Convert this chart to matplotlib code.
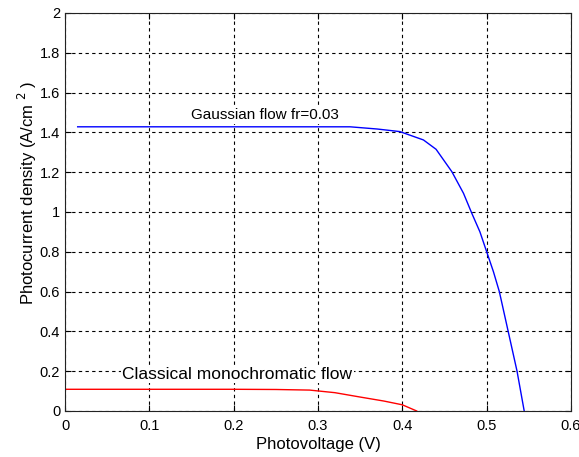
import matplotlib.pyplot as plt

plt.rcParams['font.family'] = ['Liberation Sans', 'DejaVu Sans']

# Gaussian flow fr=0.03 (blue)
gauss_v = [0.015, 0.1, 0.2, 0.279, 0.338, 0.370, 0.397, 0.425, 0.440, 0.4587, 0.4725,
           0.4824, 0.492, 0.500, 0.508, 0.515, 0.5255, 0.536, 0.5445]
gauss_j = [1.428, 1.428, 1.428, 1.428, 1.428, 1.417, 1.404, 1.362, 1.315, 1.2025, 1.094,
           0.993, 0.90, 0.80, 0.70, 0.60, 0.40, 0.20, 0.0]

# Classical monochromatic flow (red)
mono_v = [0.0, 0.1, 0.2, 0.25, 0.29, 0.32, 0.35, 0.378, 0.40, 0.417]
mono_j = [0.109, 0.109, 0.109, 0.108, 0.105, 0.092, 0.07, 0.05, 0.031, 0.0]

xticks = [0, 0.1, 0.2, 0.3, 0.4, 0.5, 0.6]
yticks = [0, 0.2, 0.4, 0.6, 0.8, 1, 1.2, 1.4, 1.6, 1.8, 2]

fig = plt.figure(figsize=(5.79, 4.57), dpi=100)
ax = fig.add_axes([0.1123, 0.1007, 0.8739, 0.8709])

ax.plot(gauss_v, gauss_j, color='#0000ff', lw=1)
ax.plot(mono_v, mono_j, color='#ff0000', lw=1)

ax.set_xlim(0, 0.6)
ax.set_ylim(0, 2)
ax.set_xticks(xticks)
ax.set_xticklabels(['0', '0.1', '0.2', '0.3', '0.4', '0.5', '0.6'])
ax.set_yticks(yticks)
ax.set_yticklabels(['0', '0.2', '0.4', '0.6', '0.8', '1', '1.2', '1.4', '1.6', '1.8', '2'])
ax.tick_params(direction='in', top=True, right=True, length=4, labelsize=10.5)
ax.tick_params(axis='x', pad=6)
ax.grid(True, color='black', linestyle=(0, (3, 3)), lw=0.8)
for s in ax.spines.values():
    s.set_color('#222222')

ax.set_xlabel('Photovoltage (V)', fontsize=12, labelpad=3)
ax.set_ylabel('Photocurrent density (A/cm $^{2}$ )', fontsize=12)
ax.yaxis.set_label_coords(-0.052, 0.548)

ax.text(0.149, 1.485, 'Gaussian flow fr=0.03', fontsize=11, ha='left', va='center',
        bbox=dict(facecolor='white', edgecolor='none', pad=1))
ax.text(0.068, 0.183, 'Classical monochromatic flow', fontsize=12.5, ha='left', va='center',
        bbox=dict(facecolor='white', edgecolor='none', pad=1))

fig.savefig('out.png', dpi=100)
